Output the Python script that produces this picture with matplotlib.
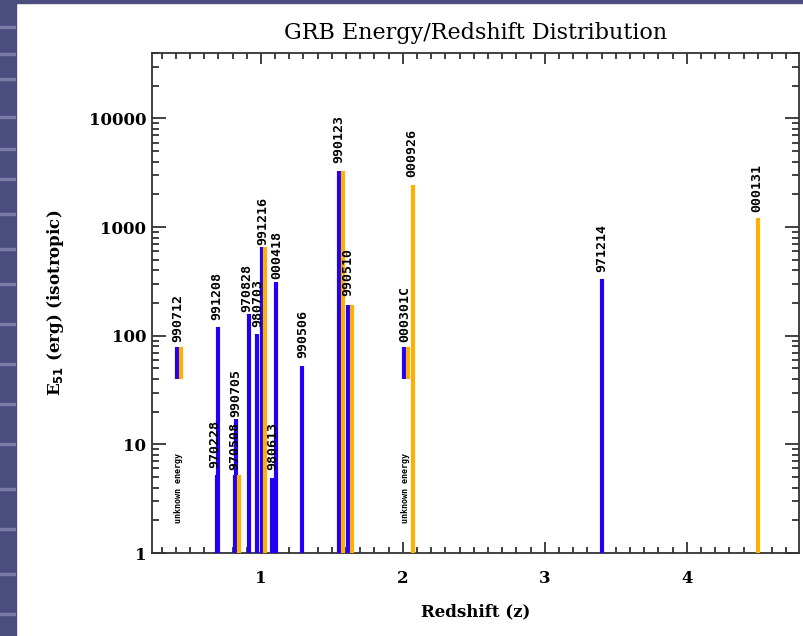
import matplotlib.pyplot as plt
from matplotlib.ticker import FixedLocator, MultipleLocator, LogLocator, FuncFormatter, NullFormatter
from matplotlib.patches import Rectangle

# blue bars: redshift, bottom and top of energy range
blue_z = [0.41, 0.69, 0.70, 0.817, 0.824, 0.915, 0.97, 1.01, 1.08, 1.105, 1.29, 1.55, 1.61, 2.01, 3.40]
blue_lo = [40, 1, 1, 1, 1, 1, 1, 1, 1, 1, 1, 1, 1, 40, 1]
blue_hi = [78, 5.2, 121, 5.2, 17, 160, 104, 650, 4.9, 309, 53, 3300, 190, 78, 335]

# orange bars
orange_z = [0.44, 0.845, 1.03, 1.58, 1.64, 2.035, 2.07, 4.50]
orange_lo = [40, 1, 1, 1, 1, 40, 1, 1]
orange_hi = [78, 5.2, 650, 3300, 190, 78, 2450, 1200]

# burst names written above the bars
grb_names = ["990712", "970228", "991208", "970508", "990705", "970828", "980703", "991216",
             "980613", "000418", "990506", "990123", "990510", "000301C", "000926", "971214", "000131"]
name_z = [0.415, 0.676, 0.69, 0.817, 0.824, 0.90, 0.975, 1.01,
          1.08, 1.11, 1.295, 1.55, 1.61, 2.01, 2.065, 3.40, 4.49]
name_e = [88, 6.1, 140, 5.8, 18, 165, 120, 690,
          5.8, 330, 63, 3900, 230, 88, 2860, 388, 1390]

unknown_z = [0.42, 2.02]

xticks = [1, 2, 3, 4]
yticks = [1, 10, 100, 1000, 10000]

blue = "#2200f5"
orange = "#ffb000"
serif = "DejaVu Serif"

fig = plt.figure(figsize=(8.04, 6.36), dpi=100, facecolor="white")

# slide decoration on the left and top
fig.patches.append(Rectangle((0, 0), 16 / 804, 1, transform=fig.transFigure, color="#4b4d7e", zorder=0))
fig.patches.append(Rectangle((0, 1 - 3 / 636), 1, 3 / 636, transform=fig.transFigure, color="#4b4d7e", zorder=0))
for yy in [28, 55, 80, 118, 150, 180, 215, 250, 285, 325, 365, 405, 445, 490, 530, 575, 615]:
    fig.patches.append(Rectangle((0, 1 - yy / 636), 15 / 804, 2 / 636, transform=fig.transFigure,
                                 color="#7a7ca6", zorder=1))

ax = fig.add_axes([152 / 804, 1 - 553 / 636, 647 / 804, 500 / 636])

ax.vlines(blue_z, blue_lo, blue_hi, colors=blue, linewidth=3.0, zorder=3)
ax.vlines(orange_z, orange_lo, orange_hi, colors=orange, linewidth=3.0, zorder=3)

for name, zz, ee in zip(grb_names, name_z, name_e):
    ax.text(zz, ee, name, rotation=90, ha="center", va="bottom", fontsize=9.5,
            family="DejaVu Sans Mono", fontweight="bold", zorder=4)
for zz in unknown_z:
    ax.text(zz, 1.9, "unknown energy", rotation=90, ha="center", va="bottom", fontsize=6,
            family="DejaVu Sans Mono", fontweight="bold", zorder=4)

ax.set_yscale("log")
ax.set_xlim(0.233, 4.79)
ax.set_ylim(1, 4e4)

ax.xaxis.set_major_locator(FixedLocator(xticks))
ax.xaxis.set_minor_locator(MultipleLocator(0.1))
ax.yaxis.set_major_locator(FixedLocator(yticks))
ax.yaxis.set_minor_locator(LogLocator(base=10, subs=range(2, 10)))
ax.yaxis.set_major_formatter(FuncFormatter(lambda v, p: "%d" % round(v)))
ax.yaxis.set_minor_formatter(NullFormatter())

ax.tick_params(which="both", direction="in", top=True, right=True, color="#333333", width=1.3)
ax.tick_params(axis="y", which="major", length=10, pad=4)
ax.tick_params(axis="y", which="minor", length=5)
ax.tick_params(axis="x", which="major", length=8, pad=12)
ax.tick_params(axis="x", which="minor", length=4.5)

for lab in ax.get_xticklabels() + ax.get_yticklabels():
    lab.set_family(serif)
    lab.set_fontweight("bold")
    lab.set_fontsize(12)

for sp in ax.spines.values():
    sp.set_linewidth(1.3)
    sp.set_color("#333333")

ax.set_xlabel("Redshift (z)", family=serif, fontweight="bold", fontsize=12)
ax.xaxis.set_label_coords(0.5, -0.1)
ax.set_ylabel(r"E$_{\mathbf{51}}$ (erg) (isotropic)", family=serif, fontweight="bold", fontsize=12)
ax.yaxis.set_label_coords(-0.133, 0.5)

fig.text((152 + 799) / 2 / 804, 1 - 33 / 636, "GRB Energy/Redshift Distribution",
         ha="center", va="center", family=serif, fontsize=16)

fig.savefig("out.png", dpi=100, facecolor=fig.get_facecolor())
